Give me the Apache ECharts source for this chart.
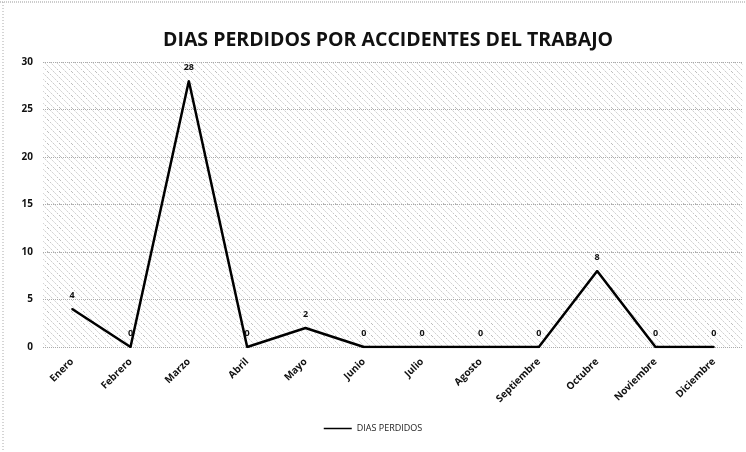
<!DOCTYPE html>
<html>
<head>
<meta charset="utf-8">
<script src="https://cdn.jsdelivr.net/npm/echarts@6/dist/echarts.min.js"></script>
<style>
  html, body { margin: 0; padding: 0; background: #fff; }
  #chart { width: 746px; height: 452px; }
</style>
</head>
<body>
<div id="chart"></div>
<script>
const months = ['Enero', 'Febrero', 'Marzo', 'Abril', 'Mayo', 'Junio', 'Julio', 'Agosto', 'Septiembre', 'Octubre', 'Noviembre', 'Diciembre']
const diasPerdidos = [4, 0, 28, 0, 2, 0, 0, 0, 0, 8, 0, 0]
const yTicks = [0, 5, 10, 15, 20, 25, 30]

// patron rayado del area de trazado (aspecto de excel escaneado)
function makeHatch() {
  const c = document.createElement('canvas')
  c.width = 12
  c.height = 12
  const ctx = c.getContext('2d')
  ctx.fillStyle = '#ffffff'
  ctx.fillRect(0, 0, 12, 12)
  ctx.lineWidth = 1
  ctx.strokeStyle = '#9a9a9a'
  ctx.setLineDash([1, 2])
  ctx.beginPath()
  ctx.moveTo(-6, -6)
  ctx.lineTo(18, 18)
  ctx.stroke()
  ctx.strokeStyle = '#cccccc'
  ctx.setLineDash([2, 1])
  ctx.beginPath()
  ctx.moveTo(-6, 0)
  ctx.lineTo(12, 18)
  ctx.moveTo(0, -6)
  ctx.lineTo(18, 12)
  ctx.stroke()
  return c
}

const myChart = echarts.init(document.getElementById('chart'))
const option = {
  animation: false,
  backgroundColor: '#fff',
  title: {
    text: 'DIAS PERDIDOS POR ACCIDENTES DEL TRABAJO',
    left: 158,
    top: 25,
    textStyle: {
      fontFamily: 'Open Sans',
      fontWeight: 'bold',
      fontSize: 19.5,
      color: '#111',
    },
  },
  legend: {
    bottom: 14,
    left: 'center',
    itemWidth: 28,
    itemHeight: 1.5,
    itemGap: 4,
    icon: 'rect',
    textStyle: { fontSize: 9, color: '#222', fontFamily: 'Open Sans' },
    data: ['DIAS PERDIDOS'],
  },
  grid: {
    left: 43,
    right: 3,
    top: 62,
    bottom: 105,
    show: true,
    borderWidth: 0,
    backgroundColor: { image: makeHatch(), repeat: 'repeat' },
  },
  xAxis: {
    type: 'category',
    data: months,
    boundaryGap: true,
    axisLine: { show: false },
    axisTick: { show: false },
    splitLine: { show: false },
    axisLabel: {
      rotate: 45,
      interval: 0,
      margin: 13,
      fontSize: 10,
      fontWeight: 'bold',
      color: '#111',
      fontFamily: 'Open Sans',
    },
  },
  yAxis: {
    type: 'value',
    min: yTicks[0],
    max: yTicks[yTicks.length - 1],
    interval: 5,
    axisLine: { show: false },
    axisTick: { show: false },
    axisLabel: {
      margin: 10,
      fontSize: 10,
      fontWeight: 'bold',
      color: '#111',
      fontFamily: 'Open Sans',
    },
    splitLine: {
      show: true,
      lineStyle: { color: '#aaa', type: 'dotted', width: 1 },
    },
  },
  series: [
    {
      name: 'DIAS PERDIDOS',
      type: 'line',
      data: diasPerdidos,
      symbol: 'circle',
      symbolSize: 2,
      showSymbol: true,
      itemStyle: { color: '#000' },
      lineStyle: { color: '#000', width: 2.5 },
      label: {
        show: true,
        position: 'top',
        distance: 8,
        fontSize: 9,
        fontWeight: 'bold',
        color: '#111',
        fontFamily: 'Open Sans',
      },
    },
  ],
  graphic: [
    {
      type: 'line',
      shape: { x1: 0, y1: 2, x2: 746, y2: 2 },
      style: { stroke: '#999', lineWidth: 1, lineDash: [1, 1] },
    },
    {
      type: 'line',
      shape: { x1: 3, y1: 2, x2: 3, y2: 452 },
      style: { stroke: '#aaa', lineWidth: 1, lineDash: [1, 2] },
    },
  ],
}
myChart.setOption(option)
</script>
</body>
</html>
